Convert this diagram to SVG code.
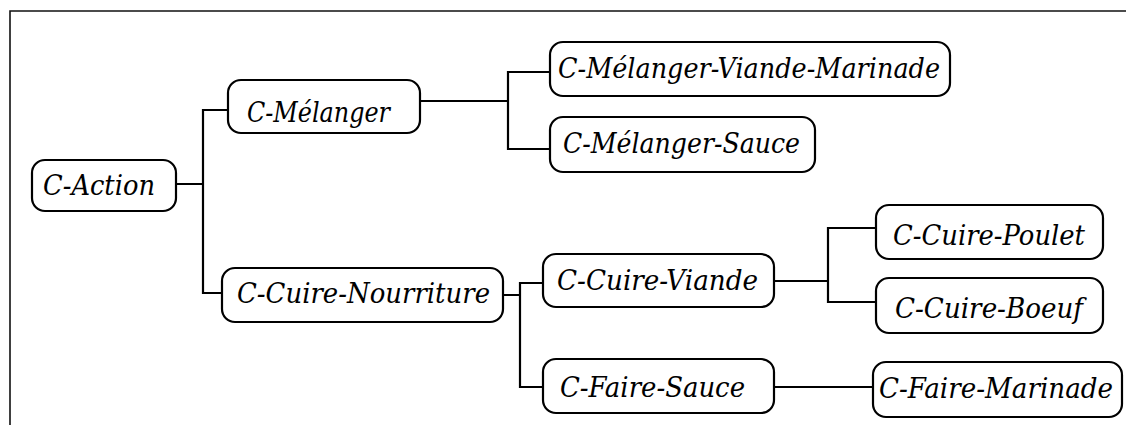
<svg xmlns="http://www.w3.org/2000/svg" width="1126" height="425" viewBox="0 0 1126 425">
  <style>
    .box { fill: #ffffff; stroke: #000000; stroke-width: 2.2; }
    .lbl { font-family: "DejaVu Serif", "Liberation Serif", serif; font-style: italic; font-size: 27px; fill: #000000; }
    .wire { fill: none; stroke: #000000; stroke-width: 2.2; }
    .frame { fill: none; stroke: #111111; stroke-width: 1.6; }
  </style>
  <rect width="1126" height="425" fill="#ffffff"/>
  <!-- outer frame: top and left edges only -->
  <path class="frame" d="M10,425 V11 H1126"/>

  <g id="connectors">
    <path class="wire" d="M176,184 H203 M228,110 H203 V293 H222"/>
    <path class="wire" d="M420,101 H508 M550,72 H508 V149 H550"/>
    <path class="wire" d="M503,295 H520 M543,283 H520 V387 H543"/>
    <path class="wire" d="M774,281 H828 M876,228 H828 V302 H876"/>
    <path class="wire" d="M774,387 H873"/>
  </g>

  <g id="c-action">
    <rect class="box" x="32" y="160" width="144" height="51" rx="13"/>
    <text class="lbl" x="43" y="195" textLength="112" lengthAdjust="spacingAndGlyphs">C-Action</text>
  </g>
  <g id="c-melanger">
    <rect class="box" x="228" y="80" width="192" height="53" rx="13"/>
    <text class="lbl" x="247" y="122" textLength="143" lengthAdjust="spacingAndGlyphs">C-Mélanger</text>
  </g>
  <g id="c-cuire-nourriture">
    <rect class="box" x="222" y="268" width="281" height="54" rx="13"/>
    <text class="lbl" x="237" y="303" textLength="253" lengthAdjust="spacingAndGlyphs">C-Cuire-Nourriture</text>
  </g>
  <g id="c-melanger-viande-marinade">
    <rect class="box" x="550" y="42" width="400" height="54" rx="13"/>
    <text class="lbl" x="558" y="78" textLength="382" lengthAdjust="spacingAndGlyphs">C-Mélanger-Viande-Marinade</text>
  </g>
  <g id="c-melanger-sauce">
    <rect class="box" x="550" y="117" width="265" height="55" rx="13"/>
    <text class="lbl" x="563" y="153" textLength="237" lengthAdjust="spacingAndGlyphs">C-Mélanger-Sauce</text>
  </g>
  <g id="c-cuire-viande">
    <rect class="box" x="543" y="254" width="231" height="53" rx="13"/>
    <text class="lbl" x="557" y="290" textLength="201" lengthAdjust="spacingAndGlyphs">C-Cuire-Viande</text>
  </g>
  <g id="c-faire-sauce">
    <rect class="box" x="543" y="359" width="231" height="54" rx="13"/>
    <text class="lbl" x="560" y="397" textLength="185" lengthAdjust="spacingAndGlyphs">C-Faire-Sauce</text>
  </g>
  <g id="c-cuire-poulet">
    <rect class="box" x="876" y="205" width="227" height="54" rx="13"/>
    <text class="lbl" x="893" y="245" textLength="192" lengthAdjust="spacingAndGlyphs">C-Cuire-Poulet</text>
  </g>
  <g id="c-cuire-boeuf">
    <rect class="box" x="876" y="278" width="227" height="55" rx="13"/>
    <text class="lbl" x="895" y="318" textLength="188" lengthAdjust="spacingAndGlyphs">C-Cuire-Boeuf</text>
  </g>
  <g id="c-faire-marinade">
    <rect class="box" x="873" y="362" width="249" height="55" rx="13"/>
    <text class="lbl" x="879" y="398" textLength="234" lengthAdjust="spacingAndGlyphs">C-Faire-Marinade</text>
  </g>
</svg>
